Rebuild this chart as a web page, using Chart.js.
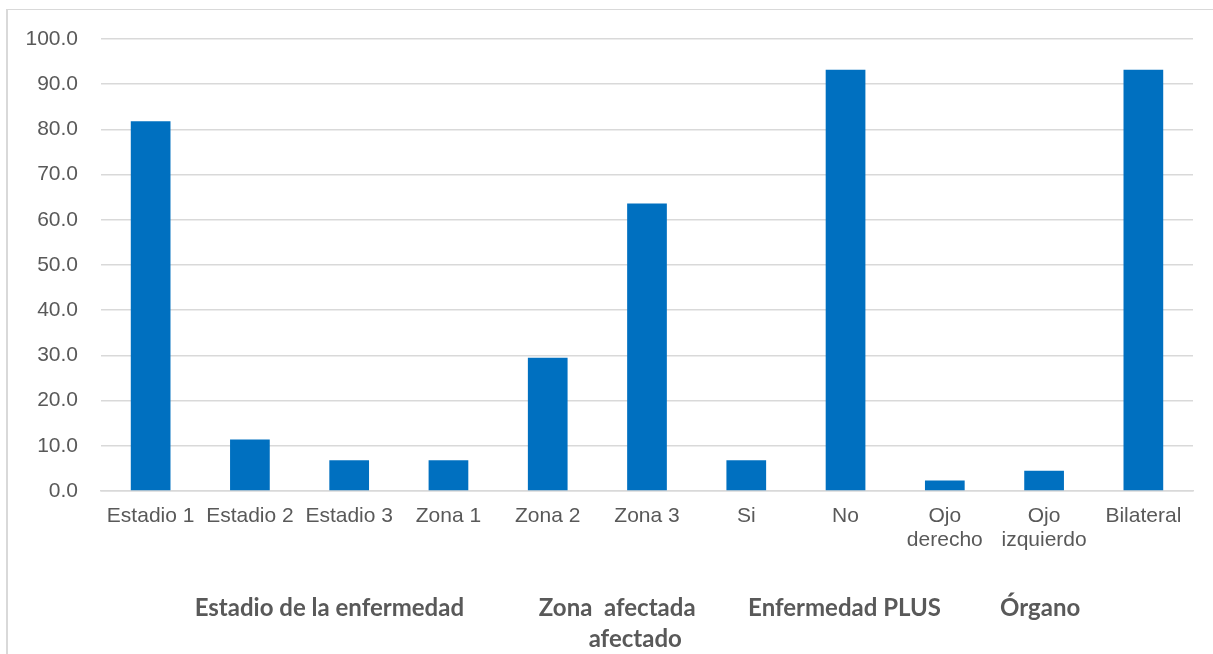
<!DOCTYPE html>
<html>
<head>
<meta charset="utf-8">
<script src="https://cdn.jsdelivr.net/npm/chart.js@4.4.1/dist/chart.umd.min.js"></script>
<style>
    body { margin: 0; background: #fff; }
    .frame {
        position: absolute; left: 6px; top: 9px; width: 1300px; height: 700px;
        border-left: 2px solid #d9d9d9; border-top: 1px solid #d9d9d9;
    }
    .box { position: absolute; left: 0; top: 0; width: 1213px; height: 654px; }
</style>
</head>
<body>
<div class="frame"></div>
<div class="box"><canvas id="chart"></canvas></div>
<script>
    // category labels (arrays wrap onto two lines)
    var categories = ['Estadio 1', 'Estadio 2', 'Estadio 3', 'Zona 1', 'Zona 2', 'Zona 3',
        'Si', 'No', ['Ojo', 'derecho'], ['Ojo', 'izquierdo'], 'Bilateral'];
    var percentages = [81.8, 11.4, 6.8, 6.8, 29.5, 63.6, 6.8, 93.2, 2.3, 4.5, 93.2];
    var groupNames = [['Estadio de la enfermedad'], ['Zona  afectada', 'afectado'], ['Enfermedad PLUS'], ['Órgano']];

    // where each group title sits, in category units along the x scale
    var groupAt = [1.8, 4.7, 6.99, 8.96];

    var groupTitles = {
        id: 'groupTitles',
        afterDraw: function (chart) {
            var ctx = chart.ctx;
            var x = chart.scales.x;
            ctx.save();
            ctx.font = 'bold 24px Lato';
            ctx.fillStyle = '#595959';
            ctx.textAlign = 'center';
            ctx.textBaseline = 'middle';
            groupNames.forEach(function (lines, i) {
                var cx = x.getPixelForValue(groupAt[i]);
                lines.forEach(function (line, j) {
                    // second line of the zone title is shifted right a bit
                    var dx = j > 0 ? 18 : 0;
                    ctx.fillText(line, cx + dx, 608 + j * 31);
                });
            });
            ctx.restore();
        }
    };

    new Chart(document.getElementById('chart'), {
        type: 'bar',
        data: {
            labels: categories,
            datasets: [{
                data: percentages,
                backgroundColor: '#0070c0',
                borderWidth: 0,
                barPercentage: 0.4,
                categoryPercentage: 1
            }]
        },
        options: {
            responsive: true,
            maintainAspectRatio: false,
            animation: false,
            layout: { padding: { left: 0, top: 39, right: 20, bottom: 0 } },
            plugins: {
                legend: { display: false },
                tooltip: { enabled: false }
            },
            scales: {
                x: {
                    afterFit: function (scale) { scale.height = 163; },
                    grid: { display: false, drawTicks: false },
                    border: { display: true, color: '#d9d9d9', width: 1.5 },
                    ticks: {
                        autoSkip: false,
                        maxRotation: 0,
                        minRotation: 0,
                        padding: 13,
                        color: '#595959',
                        font: { family: 'Liberation Sans', size: 21, lineHeight: 1.15 }
                    }
                },
                y: {
                    min: 0,
                    max: 100,
                    afterFit: function (scale) { scale.width = 101; },
                    grid: { color: '#d9d9d9', lineWidth: 1.5, drawTicks: false },
                    border: { display: false },
                    ticks: {
                        stepSize: 10,
                        padding: 23,
                        color: '#595959',
                        font: { family: 'Liberation Sans', size: 21 },
                        callback: function (v) { return v.toFixed(1); }
                    }
                }
            }
        },
        plugins: [groupTitles]
    });
</script>
</body>
</html>
